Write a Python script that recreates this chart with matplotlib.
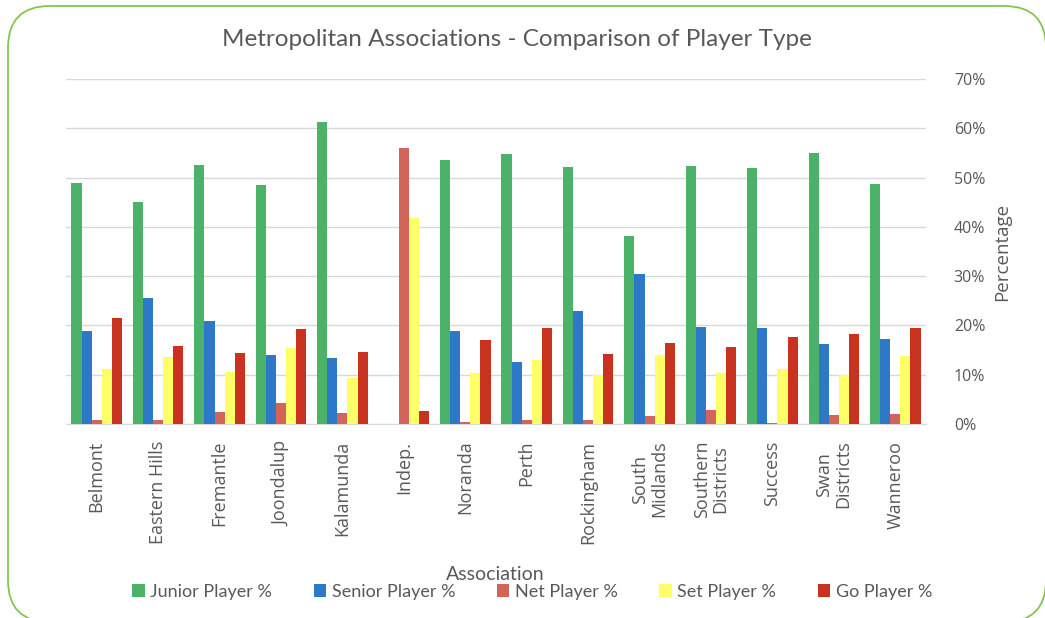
import matplotlib
matplotlib.use("Agg")
import matplotlib.pyplot as plt
import numpy as np
from matplotlib.patches import FancyBboxPatch, Patch
from matplotlib.ticker import FuncFormatter, MultipleLocator

associations = ["Belmont", "Eastern Hills", "Fremantle", "Joondalup", "Kalamunda",
                "Indep.", "Noranda", "Perth", "Rockingham", "South\nMidlands",
                "Southern\nDistricts", "Success", "Swan\nDistricts", "Wanneroo"]

junior = [48.9, 45.1, 52.5, 48.5, 61.3, 0.0, 53.5, 54.7, 52.2, 38.2, 52.3, 52.0, 55.0, 48.6]
senior = [18.8, 25.5, 21.0, 14.0, 13.4, 0.0, 18.9, 12.6, 23.0, 30.4, 19.7, 19.4, 16.2, 17.2]
net    = [0.8, 0.8, 2.5, 4.2, 2.2, 56.0, 0.5, 0.8, 0.8, 1.6, 2.8, 0.3, 1.8, 2.0]
set_   = [11.2, 13.6, 10.6, 15.4, 9.3, 41.8, 10.3, 13.0, 10.0, 14.0, 10.3, 11.1, 10.0, 13.8]
go     = [21.5, 15.8, 14.5, 19.3, 14.6, 2.7, 17.0, 19.5, 14.3, 16.4, 15.6, 17.6, 18.2, 19.4]

series_names = ["Junior Player %", "Senior Player %", "Net Player %", "Set Player %", "Go Player %"]
series_values = [junior, senior, net, set_, go]
series_colors = ["#4cb26a", "#2e78c8", "#d2645a", "#ffff66", "#c8321e"]

text_gray = "#595959"
W, H = 1045, 618
fig = plt.figure(figsize=(W / 100, H / 100), dpi=100)
fig.patch.set_facecolor("white")

# rounded green frame around the whole panel
frame = FancyBboxPatch((8 / W, (H - 622) / H), (1046 - 8) / W, (622 - 6) / H,
                       boxstyle="round,pad=0,rounding_size=0.04",
                       transform=fig.transFigure, fill=False,
                       edgecolor="#84c550", linewidth=1.3, mutation_aspect=W / H)
fig.patches.append(frame)

ax = fig.add_axes([66 / W, 1 - 424 / H, (926 - 66) / W, (424 - 79) / H])
x = np.arange(len(associations))
bw = 0.165
for i, (vals, col) in enumerate(zip(series_values, series_colors)):
    ax.bar(x + (i - 2) * bw, vals, width=bw, color=col, zorder=3)

ax.set_xlim(-0.5, len(associations) - 0.5)
ax.set_ylim(0, 70)
ax.yaxis.set_major_locator(MultipleLocator(10))
ax.yaxis.set_major_formatter(FuncFormatter(lambda v, p: f"{int(round(v))}%"))
ax.yaxis.tick_right()
ax.yaxis.set_label_position("right")
ax.grid(axis="y", color="#d9d9d9", linewidth=1.0, zorder=0)
for s in ["top", "left", "right"]:
    ax.spines[s].set_visible(False)
ax.spines["bottom"].set_color("#d9d9d9")
ax.tick_params(axis="y", length=0, pad=20, labelsize=11.5, labelcolor=text_gray)
ax.tick_params(axis="x", length=0, pad=12, labelcolor=text_gray)
ax.set_xticks(x)
ax.set_xticklabels(associations, rotation=90, ha="center", va="top", linespacing=1.05,
                   family="Open Sans", fontsize=13)
for lbl in ax.get_yticklabels():
    lbl.set_family("Open Sans")
ax.set_ylabel("Percentage", fontsize=13.5, color=text_gray, labelpad=6, family="Open Sans")

fig.text(517 / W, 1 - 40 / H, "Metropolitan Associations - Comparison of Player Type",
         ha="center", va="center", fontsize=17.5, color=text_gray, family="Lato")
fig.text(495 / W, 1 - 574 / H, "Association", ha="center", va="center",
         fontsize=14, color=text_gray, family="Lato")

handles = [Patch(facecolor=c, edgecolor="none") for c in series_colors]
leg = fig.legend(handles, series_names, loc="center", bbox_to_anchor=(532 / W, 1 - 592 / H),
                 ncol=5, frameon=False, handlelength=0.7, handleheight=0.7,
                 handletextpad=0.3, columnspacing=2.3, prop={"family": "Lato", "size": 13})
for t in leg.get_texts():
    t.set_color(text_gray)

fig.savefig("out.png", dpi=100, facecolor="white")
